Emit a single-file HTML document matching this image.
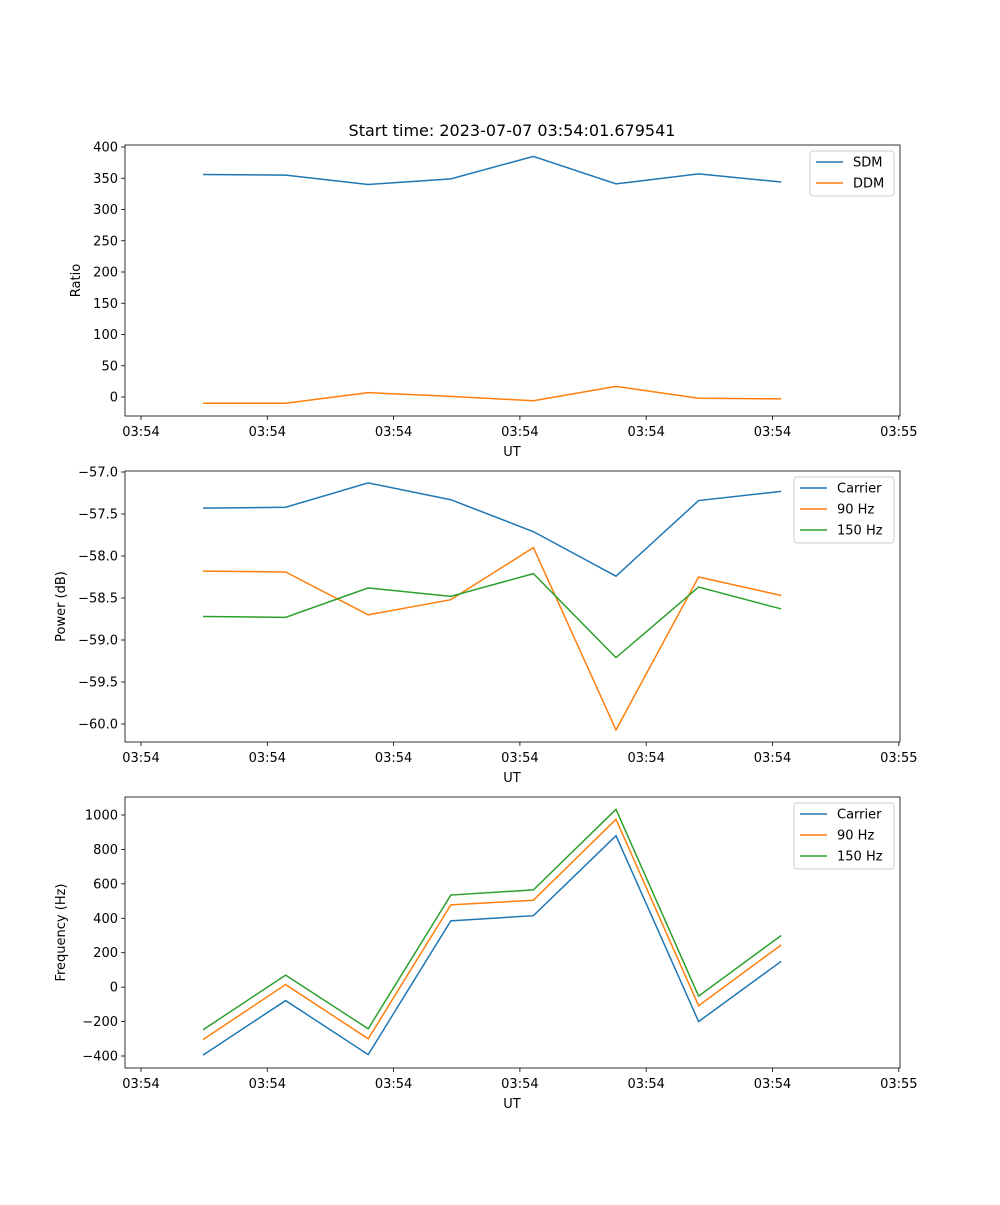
<!DOCTYPE html>
<html><head><meta charset="utf-8">
<style>
body{margin:0;background:#fff;font-family:"Liberation Sans","DejaVu Sans",sans-serif;}
svg text{font-family:"DejaVu Sans","Liberation Sans",sans-serif;font-size:13px;fill:#000}
</style></head>
<body>
<svg id="c" width="1000" height="1200" xmlns="http://www.w3.org/2000/svg"></svg>
<script>
const xIdx=[0,1,2,3,4,5,6,7];
const xTickLabels=["03:54","03:54","03:54","03:54","03:54","03:54","03:55"];
const sdm=[356,355,340,349,385,341,357,344];
const ddm=[-10,-10,7,1,-6,17,-2,-3];
const pCarrier=[-57.43,-57.42,-57.13,-57.33,-57.71,-58.24,-57.34,-57.23];
const p90=[-58.18,-58.19,-58.70,-58.52,-57.90,-60.07,-58.25,-58.47];
const p150=[-58.72,-58.73,-58.38,-58.48,-58.21,-59.21,-58.37,-58.63];
const fCarrier=[-395,-78,-392,385,415,880,-200,150];
const f90=[-305,15,-300,478,505,975,-108,245];
const f150=[-248,70,-242,535,565,1033,-52,300];
const ticks1=[0,50,100,150,200,250,300,350,400];
const ticks2=[-60.0,-59.5,-59.0,-58.5,-58.0,-57.5,-57.0];
const ticks3=[-400,-200,0,200,400,600,800,1000];

const NS="http://www.w3.org/2000/svg";
const svg=document.getElementById('c');
function el(t,a,p){const e=document.createElementNS(NS,t);for(const k in a)e.setAttribute(k,a[k]);(p||svg).appendChild(e);return e;}
const X0=125,X1=900;
function xs(i){return 203+i*82.6;}
const xTickPos=[141,267.3,393.6,519.9,646.2,772.5,898.8];
const cols=["#1f77b4","#ff7f0e","#2ca02c"];
function panel(name,top,bot,yMin,yMax,pyMin,pyMax,ticks,fmt,series,labels,ylabel,legW){
  const g=el('g',{},svg);
  
  
  const ys=v=>pyMin+(v-yMin)*(pyMax-pyMin)/(yMax-yMin);
  series.forEach((s,k)=>{
    const pts=xIdx.map(i=>xs(i)+','+ys(s[i])).join(' ');
    const l=el('polyline',{points:pts,fill:'none',stroke:cols[k],'stroke-width':1.5},g);
    
    
  });
  el('rect',{x:X0,y:top,width:X1-X0,height:bot-top,fill:'none',stroke:'#000','stroke-width':0.8},g);
  ticks.forEach(t=>{const y=ys(t);el('line',{x1:X0-4,x2:X0,y1:y,y2:y,stroke:'#000','stroke-width':0.8},g);
    const tx=el('text',{x:X0-7,y:y+4.5,'text-anchor':'end'},g);tx.textContent=fmt(t);
    
    });
  xTickPos.forEach((x,i)=>{el('line',{x1:x,x2:x,y1:bot,y2:bot+4,stroke:'#000','stroke-width':0.8},g);
    const tx=el('text',{x:x,y:bot+20,'text-anchor':'middle'},g);tx.textContent=xTickLabels[i];
    
    });
  const xl=el('text',{x:512,y:bot+40,'text-anchor':'middle'},g);xl.textContent='UT';
  
  
  const yc=(top+bot)/2, yx=name==='ratio'?80:65;
  const yl=el('text',{x:yx,y:yc,'text-anchor':'middle',transform:'rotate(-90 '+yx+' '+yc+')'},g);yl.textContent=ylabel;
  
  
  const lh=series.length*21+3, lx=X1-6-legW, ly=top+6;
  const lg=el('g',{},g);
  
  
  el('rect',{x:lx,y:ly,width:legW,height:lh,fill:'#fff',stroke:'#ccc',rx:3},lg);
  labels.forEach((lb,k)=>{const y=ly+11+k*21;
    el('line',{x1:lx+6,x2:lx+33,y1:y,y2:y,stroke:cols[k],'stroke-width':1.5},lg);
    const t=el('text',{x:lx+43,y:y+4.5},lg);t.textContent=lb;
    
    });
}
const tt=el('text',{x:512,y:136,'text-anchor':'middle'});tt.style.fontSize='16px';
tt.textContent='Start time: 2023-07-07 03:54:01.679541';


panel('ratio',145,416,0,400,397,147,ticks1,v=>String(v),[sdm,ddm],['SDM','DDM'],'Ratio',84);
panel('power',471,742,-60,-57,724,472,ticks2,v=>v.toFixed(1),[pCarrier,p90,p150],['Carrier','90 Hz','150 Hz'],'Power (dB)',100);
panel('frequency',797,1068,-400,1000,1056,815,ticks3,v=>String(v),[fCarrier,f90,f150],['Carrier','90 Hz','150 Hz'],'Frequency (Hz)',100);
document.querySelectorAll('#c text').forEach(t=>{if(/^-/.test(t.textContent))t.textContent=t.textContent.replace('-','\u2212');});
</script>
</body></html>
